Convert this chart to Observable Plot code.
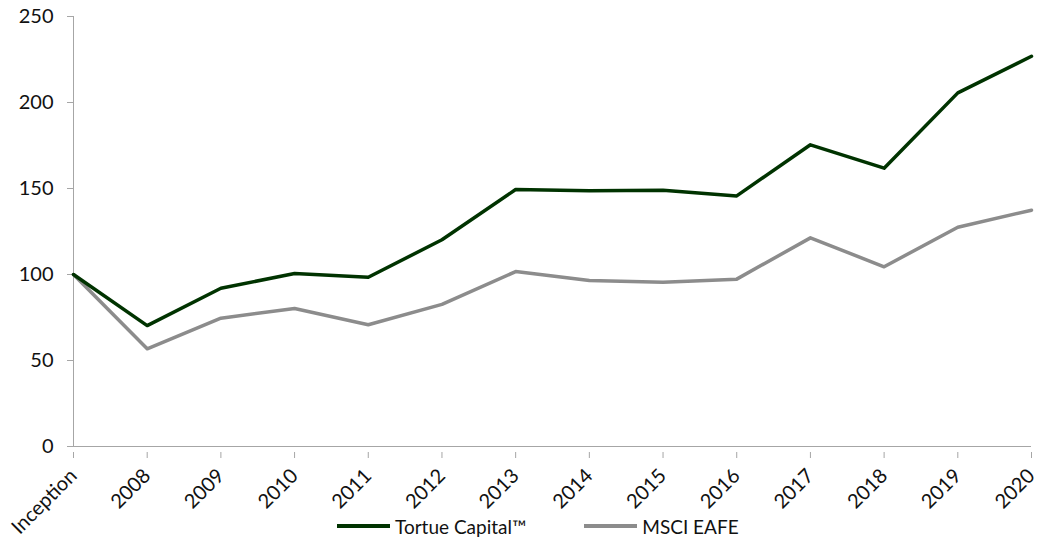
<!DOCTYPE html>
<html>
<head>
<meta charset="utf-8">
<script src="https://cdn.jsdelivr.net/npm/d3@7"></script>
<script src="https://cdn.jsdelivr.net/npm/@observablehq/plot@0.6"></script>
<style>
  html, body { margin: 0; padding: 0; background: #fff; overflow: hidden; }
  #wrap { width: 1050px; height: 538px; font-family: Lato, "Open Sans", sans-serif; position: relative; }
  #chart svg { max-width: none; display: block; overflow: visible; }
  #chart svg text { font-size: 20px !important; font-family: Lato, "Open Sans", sans-serif; }
  #legend { position: relative; display: flex; justify-content: flex-start; align-items: center; height: 28px; font-size: 19px; color: #111; }
  .item { display: flex; align-items: center; }
  .sw { width: 53px; height: 4px; margin-right: 5px; }
</style>
</head>
<body>
<div id="wrap"><div id="chart"></div><div id="legend"></div></div>
<script>
const categories = ["Inception","2008","2009","2010","2011","2012","2013","2014","2015","2016","2017","2018","2019","2020"];
const tortue = [100, 70.3, 92, 100.6, 98.4, 120.2, 149.4, 148.7, 149, 145.7, 175.4, 161.8, 205.6, 226.9];
const msci = [100, 56.8, 74.6, 80.2, 70.8, 82.6, 101.7, 96.5, 95.5, 97.3, 121.3, 104.5, 127.5, 137.4];
const seriesNames = ["Tortue Capital™", "MSCI EAFE"];
const seriesColors = ["#003300", "#8c8c8c"];
const yTicks = [0, 50, 100, 150, 200, 250];

const data = [];
categories.forEach((c, i) => {
  data.push({cat: c, value: tortue[i], series: seriesNames[0]});
  data.push({cat: c, value: msci[i], series: seriesNames[1]});
});

const chart = Plot.plot({
  width: 1050,
  height: 512,
  marginLeft: 73,
  marginRight: 19,
  marginTop: 16,
  marginBottom: 66,
  style: {fontFamily: "Lato, 'Open Sans', sans-serif", fontSize: "20px", color: "#111", background: "#fff", overflow: "visible"},
  x: {type: "point", domain: categories, padding: 0, round: false, label: null},
  y: {domain: [0, 250], label: null},
  color: {domain: seriesNames, range: seriesColors},
  marks: [
    Plot.gridY(yTicks, {stroke: "#a6a6a6", strokeOpacity: 1, strokeWidth: 1, x1: 67}),
    Plot.ruleX([categories[0]], {stroke: "#a6a6a6", strokeWidth: 1}),
    Plot.axisY(yTicks, {tickSize: 6, tickPadding: 14, stroke: "#a6a6a6", fill: "#111", fontSize: 20}),
    Plot.axisX({tickSize: 6, tickRotate: -45, tickPadding: 14, dy: 6, stroke: "#a6a6a6", fill: "#111", fontSize: 20}),
    Plot.ruleY([0], {stroke: "#a6a6a6", strokeWidth: 1}),
    Plot.line(data.filter(d => d.series === seriesNames[1]), {x: "cat", y: "value", stroke: "series", strokeWidth: 3.5}),
    Plot.line(data.filter(d => d.series === seriesNames[0]), {x: "cat", y: "value", stroke: "series", strokeWidth: 3.5})
  ]
});
document.getElementById("chart").appendChild(chart);

const legend = document.getElementById("legend");
legend.style.paddingLeft = "337px";
seriesNames.forEach((n, i) => {
  const it = document.createElement("div");
  it.className = "item";
  it.style.marginRight = i === 0 ? "58px" : "0";
  const sw = document.createElement("div");
  sw.className = "sw";
  sw.style.background = seriesColors[i];
  const t = document.createElement("span");
  t.textContent = n;
  it.appendChild(sw); it.appendChild(t);
  legend.appendChild(it);
});
</script>
</body>
</html>
